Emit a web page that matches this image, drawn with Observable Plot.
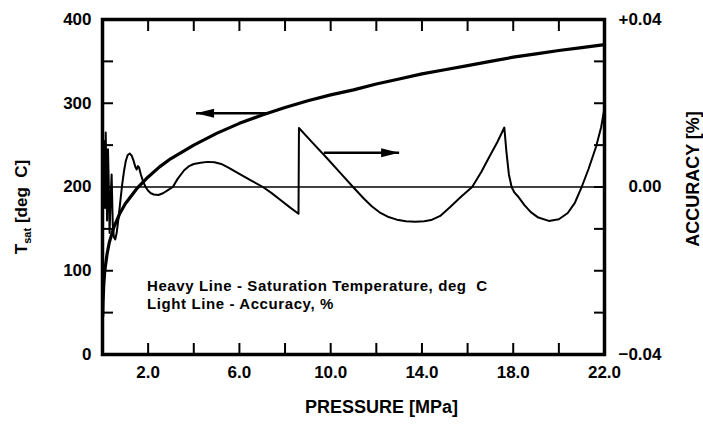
<!DOCTYPE html>
<html><head><meta charset="utf-8">
<script src="https://cdn.jsdelivr.net/npm/d3@7"></script>
<script src="https://cdn.jsdelivr.net/npm/@observablehq/plot@0.6"></script>
<style>body{margin:0;background:#fff}</style>
</head><body><div id="chart"></div>
<script>
// Saturation temperature (heavy line), deg C vs pressure MPa
const tsatP = [0.01,0.02,0.05,0.1,0.2,0.3,0.5,0.75,1,1.5,2,2.5,3,4,5,6,7,8,9,10,11,12,13,14,15,16,17,18,19,20,21,22];
const tsatT = [46,60,81,100,120,134,152,168,180,198,212,224,234,250,264,276,286,295,303,310,316,323,329,335,340,345,350,355,359,363,366.5,370];

// Accuracy (light line), % vs pressure MPa
const accP = [0,0.03,0.06,0.09,0.11,0.14,0.17,0.20,0.24,0.27,0.31,0.36,0.40,0.45,0.50,0.56,0.62,0.70,0.78,0.86,0.94,1.02,1.10,1.19,1.28,1.36,1.44,1.50,1.55,1.60,1.68,1.78,1.89,2.00,2.12,2.25,2.45,2.65,2.85,3.08,3.30,3.58,3.80,4.00,4.30,4.60,4.91,5.20,5.50,5.94,6.50,7.03,7.40,7.80,8.20,8.59,8.61,9.20,9.80,10.40,10.98,11.46,11.80,12.18,12.50,12.90,13.30,13.70,14.10,14.40,14.80,15.25,15.70,16.20,16.60,16.96,17.30,17.61,17.70,17.81,17.93,18.05,18.20,18.50,18.77,19.10,19.56,20.00,20.39,20.70,21.00,21.30,21.63,21.85,22.00];
const accV = [0,0.005,0.011,0.002,-0.005,0.013,0.003,-0.008,0.009,0.002,-0.011,-0.002,0.003,-0.009,-0.012,-0.0125,-0.011,-0.0075,-0.0035,0.0005,0.0037,0.0062,0.0076,0.0080,0.0075,0.0063,0.0048,0.0042,0.0050,0.0047,0.0030,0.0013,0,-0.0009,-0.0015,-0.0018,-0.0019,-0.0015,-0.0008,0,0.0020,0.0040,0.0050,0.0055,0.0058,0.0060,0.0059,0.0055,0.0047,0.0033,0.0016,0,-0.0014,-0.0031,-0.0048,-0.0064,0.0141,0.0106,0.0071,0.0035,0,-0.0028,-0.0046,-0.0062,-0.0071,-0.0078,-0.0082,-0.0083,-0.0082,-0.0079,-0.0069,-0.0047,-0.0024,0,0.0036,0.0073,0.0107,0.0142,0.0085,0.0030,0,-0.0013,-0.0022,-0.0044,-0.0060,-0.0073,-0.0081,-0.0077,-0.0062,-0.0038,0,0.0043,0.0096,0.0142,0.0188];

// Ticks and tick labels
const xMinorTicks = [2,4,6,8,10,12,14,16,18,20];
const xLabelTicks = [2,6,10,14,18,22];
const xTickLabels = ["2.0","6.0","10.0","14.0","18.0","22.0"];
const tMinorTicks = [50,100,150,200,250,300,350];
const tLabelTicks = [0,100,200,300,400];
const accTicks = [-0.04,0,0.04];
const accTickLabels = ["\u22120.04","0.00","+0.04"];

// Arrows (pointing to the axis each curve belongs to)
const arrowFrom = [7.25, 9.7];
const arrowTo = [4.1, 13.0];
const arrowT = [288, 241];
const arrowAngle = [180, 0];

// Annotation
const noteLines = ["Heavy Line - Saturation Temperature, deg  C", "Light Line - Accuracy, %"];
const noteX = [1.95, 1.95];
const noteY = [81, 60];

// accuracy (-0.04..+0.04) shares the frame with T (0..400)
const toT = a => 200 + a * 5000;

const tsatData = tsatP.map((p, i) => ({p, t: tsatT[i]}));
const accData = accP.map((p, i) => ({p, t: toT(accV[i])}));
const arrows = arrowFrom.map((f, i) => ({x1: f, x2: arrowTo[i], y: arrowT[i], angle: arrowAngle[i]}));
const notes = noteLines.map((s, i) => ({s, x: noteX[i], y: noteY[i]}));
const xLabelOf = new Map(xLabelTicks.map((v, i) => [v, xTickLabels[i]]));
const accLabelOf = new Map(accTicks.map((a, i) => [toT(a), accTickLabels[i]]));

const headSymbol = {draw(ctx) { ctx.moveTo(0, 0); ctx.lineTo(-18, -4.5); ctx.lineTo(-18, 4.5); ctx.closePath(); }};
const font = "'Liberation Sans', Arial, Helvetica, sans-serif";
const TL = 11; // inward tick length
const tick = {strokeWidth: 2, tickSize: TL, tickFormat: () => "", label: null};

const chart = Plot.plot({
  width: 703, height: 425,
  marginTop: 19, marginBottom: 71, marginLeft: 102, marginRight: 99,
  x: {domain: [0, 22]},
  y: {domain: [0, 400]},
  style: {fontFamily: font, fontWeight: "bold", fontSize: "17px", background: "#fff", color: "#000"},
  marks: [
    Plot.ruleY([0], {y: d => toT(d), stroke: "#000", strokeWidth: 1.5}),
    Plot.line(accData, {x: "p", y: "t", stroke: "#000", strokeWidth: 2}),
    Plot.line(tsatData, {x: "p", y: "t", stroke: "#000", strokeWidth: 3.2}),
    Plot.link(arrows, {x1: "x1", x2: "x2", y1: "y", y2: "y", stroke: "#000", strokeWidth: 2.5}),
    Plot.dot(arrows, {x: "x2", y: "y", symbol: headSymbol, rotate: "angle", fill: "#000", stroke: null}),
    Plot.axisX(xMinorTicks, {anchor: "bottom", dy: -TL, ...tick}),
    Plot.axisX(xMinorTicks, {anchor: "top", dy: TL, ...tick}),
    Plot.axisY(tMinorTicks, {anchor: "left", dx: TL, ...tick}),
    Plot.axisY(tMinorTicks, {anchor: "right", dx: -TL, ...tick}),
    Plot.axisX(xLabelTicks, {anchor: "bottom", tickSize: 0, tickPadding: 11, tickFormat: d => xLabelOf.get(d), label: null, fontSize: 17}),
    Plot.axisY(tLabelTicks, {anchor: "left", tickSize: 0, tickPadding: 11, tickFormat: d => String(d), label: null, fontSize: 17}),
    Plot.axisY(accTicks.map(toT), {anchor: "right", tickSize: 0, tickPadding: 57, textAnchor: "end", tickFormat: d => accLabelOf.get(d), label: null, fontSize: 17}),
    Plot.frame({stroke: "#000", strokeWidth: 3.5}),
    Plot.text(notes, {x: "x", y: "y", text: "s", textAnchor: "start", fontSize: 15, fontWeight: "bold"}),
    Plot.text(["PRESSURE [MPa]"], {text: d => d, frameAnchor: "bottom", textAnchor: "middle", dx: 28, dy: 58, fontSize: 18, fontWeight: "bold"}),
    Plot.text(["ACCURACY [%]"], {text: d => d, frameAnchor: "right", textAnchor: "middle", dx: 89, dy: -8, rotate: -90, fontSize: 18, fontWeight: "bold"}),
    Plot.text(["Tsat [deg  C]"], {text: d => d, frameAnchor: "left", textAnchor: "middle", dx: -81, dy: 20, rotate: -90, fontSize: 17, fontWeight: "bold"})
  ]
});

const ns = "http://www.w3.org/2000/svg";
for (const t of chart.querySelectorAll("text")) {
  // subscript "sat" in the left title
  if (t.textContent === "Tsat [deg  C]") {
    t.textContent = "";
    t.style.whiteSpace = "pre";
    const a = document.createElementNS(ns, "tspan"); a.textContent = "T"; t.appendChild(a);
    const b = document.createElementNS(ns, "tspan"); b.textContent = "sat"; b.setAttribute("font-size", "11"); b.setAttribute("dy", "4"); t.appendChild(b);
    const c = document.createElementNS(ns, "tspan"); c.textContent = " [deg  C]"; c.setAttribute("dy", "-4"); t.appendChild(c);
  }
  if (noteLines.includes(t.textContent)) {
    t.style.whiteSpace = "pre";
    t.style.letterSpacing = "0.6px";
  }
}
document.getElementById("chart").appendChild(chart);
</script>
</body></html>
